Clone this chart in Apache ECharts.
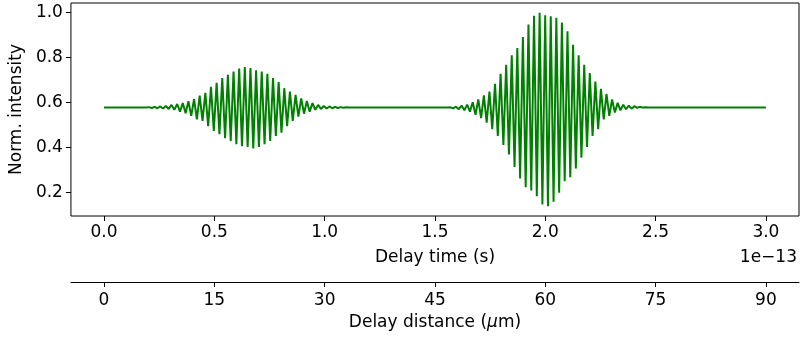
<!DOCTYPE html>
<html>
<head>
<meta charset="utf-8">
<script src="https://cdn.jsdelivr.net/npm/echarts@6/dist/echarts.min.js"></script>
<style>
html,body{margin:0;padding:0;background:#fff;}
#chart{width:800px;height:337px;}
</style>
</head>
<body>
<div id="chart"></div>
<script>
// ---- data (time in units of 1e-13 s) ----
const baseline = 0.577;
const timeStart = 0.0;
const timeEnd = 3.0;

const packet1Start = 0.2036;
const packet1Period = 0.02556;
const packet1Peaks = [0.579,0.580,0.582,0.584,0.589,0.593,0.597,0.605,0.615,0.630,0.642,0.669,0.687,0.708,0.722,0.737,0.750,0.757,0.752,0.742,0.737,0.727,0.708,0.690,0.663,0.648,0.633,0.618,0.606,0.597,0.589,0.584,0.582,0.580,0.579,0.578];
const packet1Troughs = [0.575,0.574,0.573,0.571,0.567,0.559,0.552,0.540,0.525,0.518,0.495,0.473,0.459,0.441,0.429,0.414,0.406,0.402,0.396,0.402,0.414,0.429,0.451,0.466,0.495,0.518,0.537,0.550,0.559,0.567,0.571,0.573,0.574,0.575,0.576];

const packet2Start = 1.5701;
const packet2Period = 0.025264;
const packet2Peaks = [0.578,0.581,0.586,0.590,0.601,0.613,0.631,0.648,0.682,0.727,0.767,0.809,0.841,0.890,0.945,0.984,0.998,0.987,0.982,0.975,0.954,0.916,0.856,0.809,0.767,0.730,0.693,0.660,0.638,0.613,0.598,0.590,0.586,0.583,0.580,0.578,0.577];
const packet2Troughs = [0.574,0.570,0.565,0.559,0.545,0.530,0.510,0.481,0.451,0.411,0.369,0.313,0.262,0.224,0.209,0.184,0.147,0.139,0.159,0.199,0.250,0.268,0.307,0.355,0.402,0.451,0.481,0.525,0.540,0.555,0.565,0.570,0.572,0.576,0.577,0.577];

const timeTicks = [0.0,0.5,1.0,1.5,2.0,2.5,3.0];
const distanceTicks = [0,15,30,45,60,75,90];
const distanceMax = 90; // µm at timeEnd
const yTicks = [0.2,0.4,0.6,0.8,1.0];

// ---- build series ----
function addPacket(out, start, period, peaks, troughs) {
  const half = period / 2;
  out.push([start - half, baseline]);
  for (let i = 0; i < peaks.length; i++) {
    out.push([start + i * period, peaks[i]]);
    if (i < troughs.length) out.push([start + i * period + half, troughs[i]]);
  }
  out.push([start + (peaks.length - 1) * period + half, baseline]);
}
const signal = [[timeStart, baseline]];
addPacket(signal, packet1Start, packet1Period, packet1Peaks, packet1Troughs);
addPacket(signal, packet2Start, packet2Period, packet2Peaks, packet2Troughs);
signal.push([timeEnd, baseline]);

const allVals = signal.map(p => p[1]);
const yMinD = Math.min(...allVals), yMaxD = Math.max(...allVals);
const yPad = (yMaxD - yMinD) * 0.05;
const xPad = (timeEnd - timeStart) * 0.05;
const dScale = distanceMax / (timeEnd - timeStart);

const FONT = 'DejaVu Sans';
const FS = 17;
const tickStyle = {color: '#000', width: 1};
const chart = echarts.init(document.getElementById('chart'), null, {renderer: 'canvas'});
chart.setOption({
  animation: false,
  textStyle: {fontFamily: FONT},
  grid: {left: 70, right: 1, top: 3, bottom: 121, show: true, borderColor: '#000', borderWidth: 1, backgroundColor: 'transparent'},
  xAxis: [{
    type: 'value', position: 'bottom',
    min: timeStart - xPad, max: timeEnd + xPad,
    axisLine: {show: false, onZero: false},
    splitLine: {show: false},
    axisTick: {show: true, inside: false, length: 5, lineStyle: tickStyle, customValues: timeTicks},
    axisLabel: {show: true, margin: 8, color: '#000', fontSize: FS, fontFamily: FONT, customValues: timeTicks, formatter: v => v.toFixed(1)},
    name: 'Delay time (s)', nameLocation: 'middle', nameGap: 33,
    nameTextStyle: {color: '#000', fontSize: FS, fontFamily: FONT}
  }, {
    type: 'value', position: 'bottom', offset: 66,
    min: (timeStart - xPad) * dScale, max: (timeEnd + xPad) * dScale,
    axisLine: {show: true, onZero: false, lineStyle: {color: '#000', width: 1}},
    splitLine: {show: false},
    axisTick: {show: true, inside: false, length: 5, lineStyle: tickStyle, customValues: distanceTicks},
    axisLabel: {show: true, margin: 10, color: '#000', fontSize: FS, fontFamily: FONT, customValues: distanceTicks, formatter: v => String(v)},
    name: '{n|Delay distance (}{i|μ}{n|m)}', nameLocation: 'middle', nameGap: 32,
    nameTextStyle: {color: '#000', fontSize: FS, fontFamily: FONT,
      rich: {n: {fontSize: FS, fontFamily: FONT, color: '#000'}, i: {fontSize: FS, fontFamily: FONT, fontStyle: 'italic', color: '#000'}}}
  }],
  yAxis: {
    type: 'value',
    min: yMinD - yPad, max: yMaxD + yPad,
    axisLine: {show: false, onZero: false},
    splitLine: {show: false},
    axisTick: {show: true, inside: false, length: 5, lineStyle: tickStyle, customValues: yTicks},
    axisLabel: {show: true, margin: 8, color: '#000', fontSize: FS, fontFamily: FONT, customValues: yTicks, formatter: v => v.toFixed(1)},
    name: 'Norm. intensity', nameLocation: 'middle', nameGap: 44, nameRotate: 90,
    nameTextStyle: {color: '#000', fontSize: FS, fontFamily: FONT}
  },
  graphic: [{
    type: 'text', right: 3, top: 249,
    style: {text: '1e\u221213', fill: '#000', font: FS + 'px "' + FONT + '"', textAlign: 'right'}
  }],
  series: [{
    type: 'line', xAxisIndex: 0, data: signal, showSymbol: false, smooth: false,
    lineStyle: {color: '#008000', width: 2}, itemStyle: {color: '#008000'}
  }]
});
</script>
</body>
</html>
